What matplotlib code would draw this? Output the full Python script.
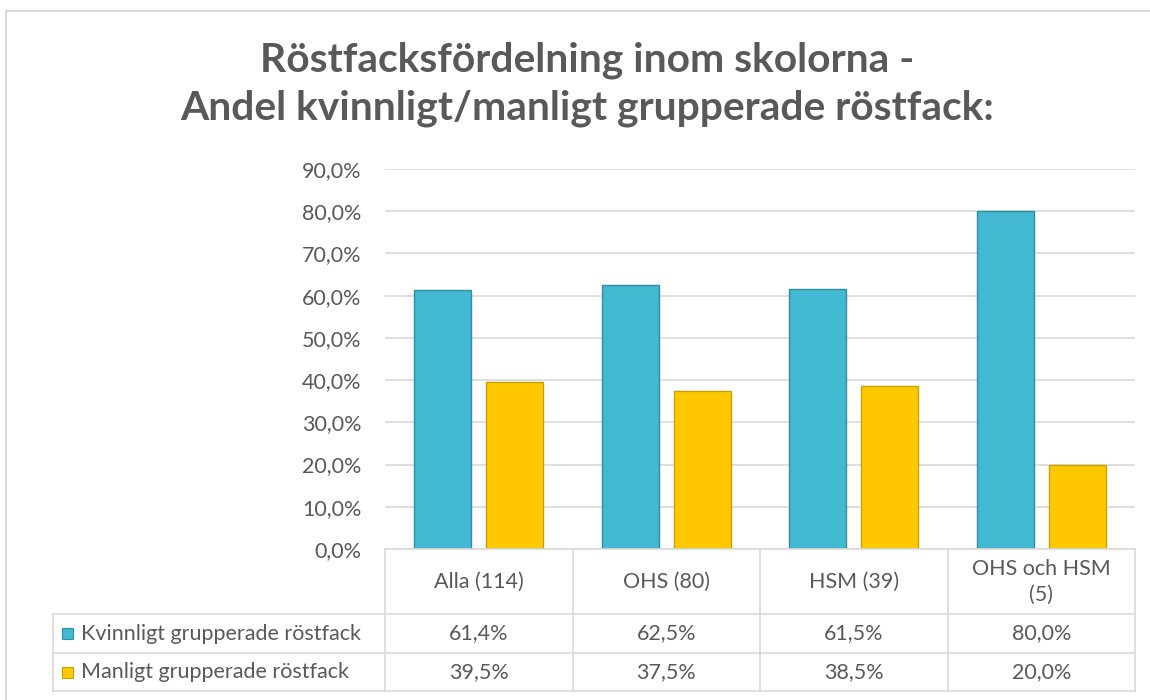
import numpy as np
import matplotlib.pyplot as plt
from matplotlib.patches import Rectangle

categories = ["Alla (114)", "OHS (80)", "HSM (39)", "OHS och HSM\n(5)"]
series_names = ["Kvinnligt grupperade röstfack", "Manligt grupperade röstfack"]
kvinnligt = [61.4, 62.5, 61.5, 80.0]
manligt = [39.5, 37.5, 38.5, 20.0]
yticks = [0, 10, 20, 30, 40, 50, 60, 70, 80, 90]

blue = "#42B8D1"
blue_edge = "#2F8EA3"
yellow = "#FFC800"
yellow_edge = "#C9A100"
text_col = "#595959"
grid_col = "#D9D9D9"

plt.rcParams["font.family"] = ["Lato", "DejaVu Sans"]

W, H = 1150, 700
fig = plt.figure(figsize=(W / 100, H / 100), dpi=100)


def px_axes(x0, y0, x1, y1):
    # pixel box (top-left origin) -> figure axes
    return fig.add_axes([x0 / W, 1 - y1 / H, (x1 - x0) / W, (y1 - y0) / H])


def pct(v):
    return f"{v:.1f}%".replace(".", ",")


# outer chart border
fig.add_artist(plt.Line2D([6 / W, 1], [1 - 11 / H, 1 - 11 / H], color=grid_col, lw=1.5))
fig.add_artist(plt.Line2D([6 / W, 6 / W], [0, 1 - 11 / H], color=grid_col, lw=1.5))

# title
fig.text(587 / W, 1 - 60 / H, "Röstfacksfördelning inom skolorna -", ha="center", va="center",
         fontsize=29.3, fontweight="bold", color=text_col)
fig.text(587 / W, 1 - 108 / H, "Andel kvinnligt/manligt grupperade röstfack:", ha="center", va="center",
         fontsize=29.3, fontweight="bold", color=text_col)

# bar chart
x0, x1 = 385, 1135
ax = px_axes(x0, 169, x1, 549)
x = np.arange(len(categories))
bw = 0.304
off = 0.192
ax.bar(x - off, kvinnligt, bw, color=blue, edgecolor=blue_edge, linewidth=1, zorder=3)
ax.bar(x + off, manligt, bw, color=yellow, edgecolor=yellow_edge, linewidth=1, zorder=3)
ax.set_xlim(-0.5, len(categories) - 0.5)
ax.set_ylim(0, 90)
ax.set_yticks(yticks)
ax.set_yticklabels([pct(v) for v in yticks], fontsize=15.5, color=text_col)
ax.set_xticks([])
ax.tick_params(axis="y", length=0, pad=17)
ax.grid(axis="y", color=grid_col, lw=1.2, zorder=0)
for s in ax.spines.values():
    s.set_visible(False)

# data table
tab = px_axes(x0, 549, x1, 691)
tab.set_xlim(-0.5, len(categories) - 0.5)
tab.set_ylim(142, 0)
tab.axis("off")
cat_w = (x1 - x0) / len(categories)
left = -0.5 - (x0 - 53) / cat_w
rows = [0, 65, 104, 142]
lk = dict(color=grid_col, lw=1.2, clip_on=False)
tab.plot([-0.5, len(categories) - 0.5], [0, 0], **lk)
for r in rows[1:]:
    tab.plot([left, len(categories) - 0.5], [r, r], **lk)
for b in np.arange(len(categories) + 1) - 0.5:
    tab.plot([b, b], [0, 142], **lk)
tab.plot([left, left], [65, 142], **lk)

fs = 15.5
for i, c in enumerate(categories):
    tab.text(i, 33, c, ha="center", va="center", fontsize=fs, color=text_col, linespacing=1.4)
    tab.text(i, 84.5, pct(kvinnligt[i]), ha="center", va="center", fontsize=fs, color=text_col)
    tab.text(i, 123, pct(manligt[i]), ha="center", va="center", fontsize=fs, color=text_col)

sq = 11 / cat_w
for (yc, name, fc, ec) in [(84.5, series_names[0], blue, blue_edge), (123, series_names[1], yellow, yellow_edge)]:
    tab.add_patch(Rectangle((left + 9 / cat_w, yc - 5.5), sq, 11, facecolor=fc, edgecolor=ec,
                            lw=0.8, clip_on=False))
    tab.text(left + 28 / cat_w, yc, name, ha="left", va="center", fontsize=fs, color=text_col)

fig.savefig("out.png", dpi=100, facecolor="white")
